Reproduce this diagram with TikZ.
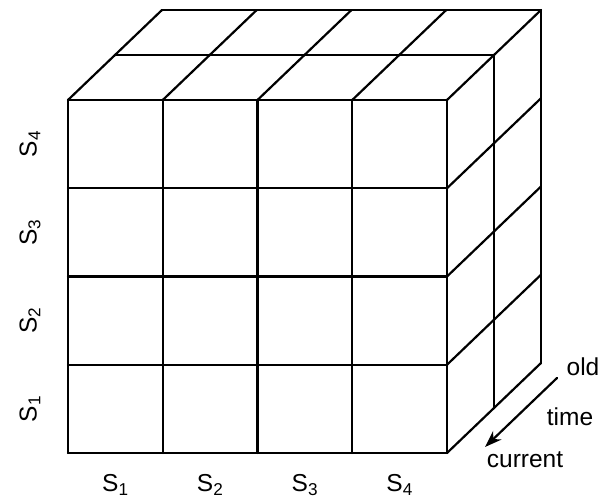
\documentclass[tikz,border=0pt]{standalone}
\usepackage{fontspec}
\setmainfont{Liberation Sans}
\usetikzlibrary{arrows.meta}
\begin{document}
\begin{tikzpicture}[x=1pt, y=1pt, line cap=round, line join=round,
    cell/.style={line width=2.2pt},
    lbl/.style={font=\fontsize{24.5}{26}\selectfont, inner sep=0pt}]
	% Bounding box of the whole figure
	\useasboundingbox (0,0) rectangle (599,502);
	
	% Cell width, row height and depth offset of one time layer
	\def\cw{94.75} \def\rh{88.25}
	\def\dx{47} \def\dy{45}
	
	% Front face: 4 x 4 grid
	\foreach \i in {0,...,4} {
		\draw[cell] (68+\i*\cw,49) -- (68+\i*\cw,49+4*\rh);
		\draw[cell] (68,49+\i*\rh) -- (68+4*\cw,49+\i*\rh);
	}
	
	% Top face: receding edges and layer lines
	\foreach \i in {0,...,4}
		\draw[cell] (68+\i*\cw,49+4*\rh) -- ++(2*\dx,2*\dy);
	\foreach \k in {1,2}
		\draw[cell] (68+\k*\dx,49+4*\rh+\k*\dy) -- ++(4*\cw,0);
	
	% Right face: receding edges and layer lines
	\foreach \i in {0,...,3}
		\draw[cell] (68+4*\cw,49+\i*\rh) -- ++(2*\dx,2*\dy);
	\foreach \k in {1,2}
		\draw[cell] (68+4*\cw+\k*\dx,49+\k*\dy) -- ++(0,4*\rh);
	
	% Axis labels
	\foreach \i in {1,...,4} {
		\node[lbl] (col\i) at (68+\i*\cw-0.5*\cw,17) {S\textsubscript{\i}};
		\node[lbl, rotate=90] (row\i) at (30,49+\i*\rh-0.5*\rh) {S\textsubscript{\i}};
	}
	
	% Time direction
	\coordinate (old) at (557,124);
	\coordinate (now) at (485,55);
	\draw[-{Stealth[length=17pt, width=12pt]}, line width=2.2pt] (old) -- (now);
	\node[lbl] (oldlbl) at (583,135) {old};
	\node[lbl] (timelbl) at (570,85) {time};
	\node[lbl] (curlbl) at (525,42) {current};
\end{tikzpicture}
\end{document}
